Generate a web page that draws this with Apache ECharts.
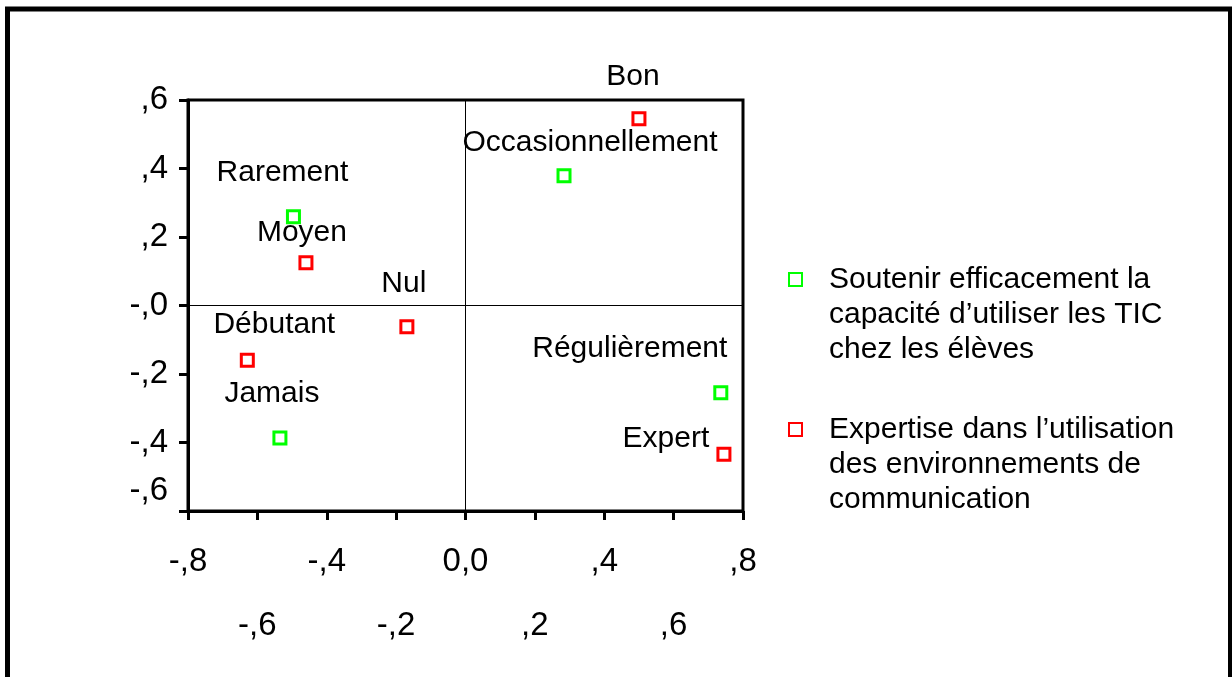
<!DOCTYPE html>
<html>
<head>
<meta charset="utf-8">
<script src="https://cdn.jsdelivr.net/npm/echarts@6/dist/echarts.min.js"></script>
<style>
  html, body { margin: 0; padding: 0; background: #fff; }
  #chart { width: 1232px; height: 677px; }
</style>
</head>
<body>
<div id="chart"></div>
<script>
// --- data ---
const ticName = 'Soutenir efficacement la\ncapacité d’utiliser les TIC\nchez les élèves';
const ticCategories = ['Rarement', 'Jamais', 'Occasionnellement', 'Régulièrement'];
const ticDim1 = [-0.496, -0.535, 0.284, 0.736];
const ticDim2 = [0.259, -0.387, 0.379, -0.255];

const expertName = 'Expertise dans l’utilisation\ndes environnements de\ncommunication';
const expertCategories = ['Moyen', 'Débutant', 'Nul', 'Bon', 'Expert'];
const expertDim1 = [-0.460, -0.629, -0.169, 0.500, 0.745];
const expertDim2 = [0.125, -0.160, -0.062, 0.545, -0.434];

const xTickLabels = ['-,8', '-,6', '-,4', '-,2', '0,0', ',2', ',4', ',6', ',8'];
const yTickLabels = ['-,6', '-,4', '-,2', '-,0', ',2', ',4', ',6'];

// label placement around each point (layout only)
const labelOffsets = {
    'Rarement': [-11, -44],
    'Jamais': [-8, -44],
    'Occasionnellement': [26, -33],
    'Régulièrement': [-91, -44],
    'Moyen': [-4, -30],
    'Débutant': [27, -36],
    'Nul': [-3, -43],
    'Bon': [-6, -42],
    'Expert': [-58, -15]
};

const FONT = '"Liberation Sans", Arial, sans-serif';
const FS = 30;      // point labels + legend
const TICK_FS = 33; // axis tick labels

function tickIndex(value, min) {
    return Math.round((value - min) / 0.2);
}

function buildPoints(cats, xs, ys) {
    return cats.map((c, i) => ({
        value: [xs[i], ys[i]],
        name: c,
        label: { offset: labelOffsets[c] }
    }));
}

function pointSeries(name, color, cats, xs, ys) {
    return {
        name: name,
        type: 'scatter',
        symbol: 'rect',
        symbolSize: 12,
        itemStyle: { color: '#fff', borderColor: color, borderWidth: 3, opacity: 1 },
        label: {
            show: true,
            position: 'inside',
            align: 'center',
            verticalAlign: 'middle',
            formatter: p => p.name,
            color: '#000',
            fontSize: FS,
            fontFamily: FONT
        },
        emphasis: { disabled: true },
        data: buildPoints(cats, xs, ys)
    };
}

const chart = echarts.init(document.getElementById('chart'));

const tickLabel = { color: '#000', fontSize: TICK_FS, fontFamily: FONT };

// legend text is centred on the icon, so two blank lines in front put the
// first real line level with the square
function legendCfg(name, top) {
    return {
        data: [name],
        orient: 'vertical',
        left: 788, top: top, padding: 0,
        itemWidth: 13, itemHeight: 13,
        selectedMode: false,
        formatter: n => '\n\n' + n,
        textStyle: {
            color: '#000', fontSize: FS, fontFamily: FONT,
            lineHeight: 35, padding: [0, 0, 0, 22]
        }
    };
}

const option = {
    animation: false,
    backgroundColor: '#fff',
    graphic: [{
        type: 'rect',
        shape: { x: 7.5, y: 9, width: 1223, height: 700 },
        style: { fill: 'none', stroke: '#000', lineWidth: 5 },
        silent: true
    }],
    grid: {
        left: 188, right: 489, top: 100, bottom: 166,
        show: true, borderColor: '#000', borderWidth: 3, backgroundColor: 'transparent'
    },
    legend: [
        legendCfg(ticName, 192),
        legendCfg(expertName, 342)
    ],
    xAxis: [
        {
            type: 'value', min: -0.8, max: 0.8, interval: 0.2,
            axisLine: { show: true, onZero: false, lineStyle: { color: '#000', width: 3 } },
            axisTick: { show: true, length: 9, lineStyle: { color: '#000', width: 3 } },
            splitLine: { show: false },
            axisLabel: Object.assign({
                margin: 34,
                formatter: v => {
                    const i = tickIndex(v, -0.8);
                    return i % 2 === 0 ? xTickLabels[i] : '';
                }
            }, tickLabel)
        },
        {
            type: 'value', min: -0.8, max: 0.8, interval: 0.2,
            position: 'bottom',
            axisLine: { show: false },
            axisTick: { show: false },
            splitLine: { show: false },
            axisLabel: Object.assign({
                margin: 98,
                formatter: v => {
                    const i = tickIndex(v, -0.8);
                    return i % 2 === 1 ? xTickLabels[i] : '';
                }
            }, tickLabel)
        }
    ],
    yAxis: {
        type: 'value', min: -0.6, max: 0.6, interval: 0.2,
        axisLine: { show: true, onZero: false, lineStyle: { color: '#000', width: 3 } },
        axisTick: { show: true, length: 9, lineStyle: { color: '#000', width: 3 } },
        splitLine: { show: false },
        axisLabel: Object.assign({
            margin: 20,
            formatter: v => {
                const i = tickIndex(v, -0.6);
                return i === 0 ? '{low|' + yTickLabels[i] + '}' : yTickLabels[i];
            },
            rich: {
                low: { padding: [0, 0, 40, 0], color: '#000', fontSize: TICK_FS, fontFamily: FONT }
            }
        }, tickLabel)
    },
    series: [
        Object.assign(pointSeries(ticName, '#00ff00', ticCategories, ticDim1, ticDim2), {
            markLine: {
                silent: true,
                symbol: 'none',
                label: { show: false },
                lineStyle: { color: '#000', width: 1, type: 'solid' },
                data: [{ xAxis: 0 }, { yAxis: 0 }]
            }
        }),
        pointSeries(expertName, '#ff0000', expertCategories, expertDim1, expertDim2)
    ]
};

chart.setOption(option);
</script>
</body>
</html>
